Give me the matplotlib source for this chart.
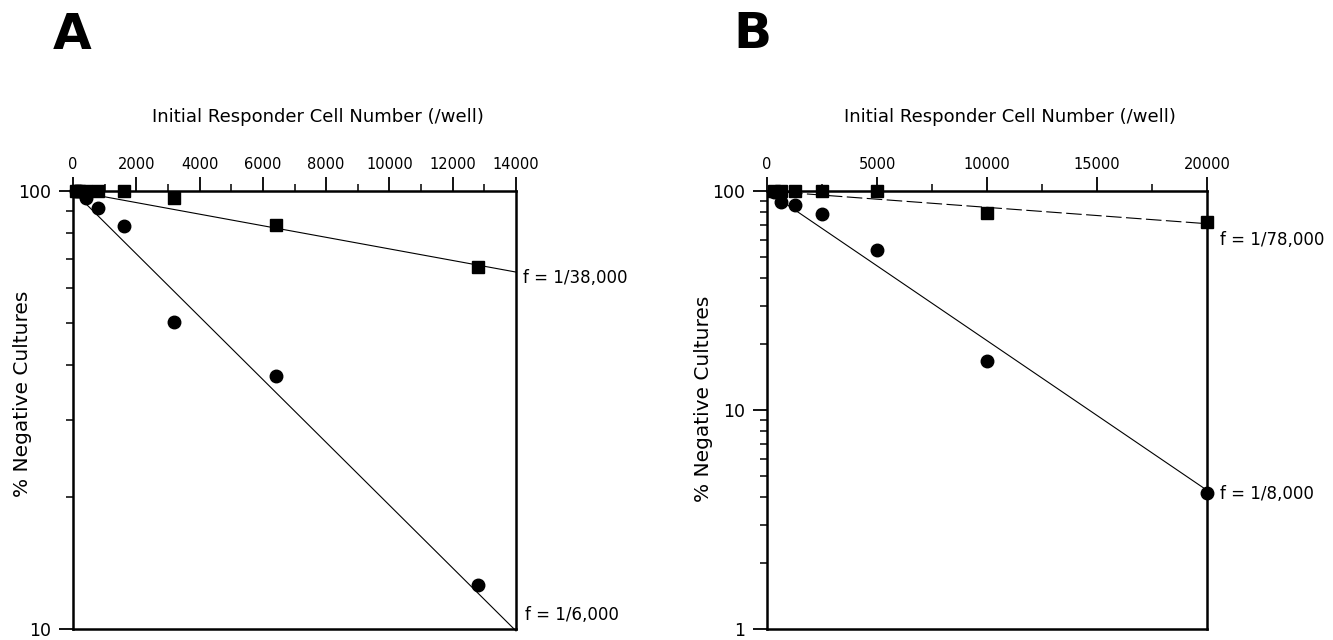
import matplotlib
matplotlib.use('Agg')
import matplotlib.pyplot as plt
from matplotlib.ticker import FixedLocator, NullFormatter

plt.rcParams['font.family'] = ['DejaVu Sans']

# panel A: cells per well, % negative cultures
a_cells = [100, 200, 400, 800, 1600, 3200, 6400, 12800]
a_squares = [100, 100, 100, 100, 100, 96.4, 83.7, 67.0]
a_circles = [100, 100, 96.4, 91.5, 83.3, 50.2, 37.9, 12.6]
a_fit_x = [0, 14000]
a_fit_squares = [100, 65.3]
a_fit_circles = [100, 9.9]
a_labels = ['f = 1/38,000', 'f = 1/6,000']

# panel B
b_cells = [312.5, 625, 1250, 2500, 5000, 10000, 20000]
b_squares = [100, 100, 100, 100, 100, 79.5, 72.4]
b_circles = [99, 89.2, 86.4, 78.7, 53.5, 16.7, 4.2]
b_fit_x = [0, 20000]
b_fit_squares = [100, 70.9]
b_fit_circles = [100, 4.3]
b_labels = ['f = 1/78,000', 'f = 1/8,000']

xtitle = 'Initial Responder Cell Number (/well)'
ytitle = '% Negative Cultures'

W, H = 1333, 640
fig = plt.figure(figsize=(W / 100, H / 100), dpi=100)


def px_axes(x0, x1, y0, y1):
    # axes box from pixel edges
    return fig.add_axes([x0 / W, 1 - y1 / H, (x1 - x0) / W, (y1 - y0) / H])


def style(ax, xmax, xmajor, xminor, ymin, ymajor, yminor, ylab_xy):
    ax.set_yscale('log')
    ax.set_xlim(0, xmax)
    ax.set_ylim(ymin, 100)
    for s in ax.spines.values():
        s.set_linewidth(1.8)
    ax.xaxis.tick_top()
    ax.xaxis.set_major_locator(FixedLocator(xmajor))
    ax.xaxis.set_minor_locator(FixedLocator(xminor))
    ax.xaxis.set_minor_formatter(NullFormatter())
    ax.set_xticklabels([str(v) for v in xmajor])
    ax.yaxis.set_major_locator(FixedLocator(ymajor))
    ax.yaxis.set_minor_locator(FixedLocator(yminor))
    ax.yaxis.set_minor_formatter(NullFormatter())
    ax.set_yticklabels([str(v) for v in ymajor])
    ax.tick_params(axis='x', which='major', direction='out', length=10, width=1.3,
                   labelsize=10.5, pad=4)
    ax.tick_params(axis='x', which='minor', direction='out', length=5, width=1.1)
    ax.tick_params(axis='y', which='major', direction='out', length=10, width=1.3,
                   labelsize=12.5, pad=6)
    ax.tick_params(axis='y', which='minor', direction='out', length=5, width=1.1)
    ax.set_xlabel(xtitle, fontsize=13)
    ax.xaxis.set_label_position('top')
    ax.xaxis.set_label_coords(0.553, 1.168)
    ax.xaxis.label.set_va('center')
    ax.set_ylabel(ytitle, fontsize=14.5)
    ax.yaxis.set_label_coords(*ylab_xy)
    ax.yaxis.label.set_va('center')


def draw(ax, cells, sq, circ, fx, fsq, fcirc, dashed):
    ls = (0, (14, 4)) if dashed else '-'
    ax.plot(fx, fsq, color='black', lw=0.8, ls=ls, clip_on=False, zorder=2)
    ax.plot(fx, fcirc, color='black', lw=0.8, clip_on=False, zorder=2)
    ax.plot(cells, circ, 'o', color='black', ms=9, clip_on=False, zorder=3)
    ax.plot(cells, sq, 's', color='black', ms=8, clip_on=False, zorder=4)


# ---- A ----
axA = px_axes(73, 516, 191, 629)
draw(axA, a_cells, a_squares, a_circles, a_fit_x, a_fit_squares, a_fit_circles, False)
style(axA, 14000, list(range(0, 14001, 2000)), list(range(1000, 14000, 2000)),
      10, [10, 100], [20, 30, 40, 50, 60, 70, 80, 90], (-0.115, 0.537))
axA.annotate(a_labels[0], (a_fit_x[-1], a_fit_squares[-1]), xytext=(5, -4.5),
             textcoords='offset points', fontsize=12, va='center', ha='left',
             annotation_clip=False)
axA.annotate(a_labels[1], (a_fit_x[-1], a_fit_circles[-1]), xytext=(6.5, 11.5),
             textcoords='offset points', fontsize=12, va='center', ha='left',
             annotation_clip=False)

# ---- B ----
axB = px_axes(767, 1207, 191, 629)
draw(axB, b_cells, b_squares, b_circles, b_fit_x, b_fit_squares, b_fit_circles, True)
minorB = [2, 3, 4, 5, 6, 7, 8, 9, 20, 30, 40, 50, 60, 70, 80, 90]
style(axB, 20000, [0, 5000, 10000, 15000, 20000], [2500, 7500, 12500, 17500],
      1, [1, 10, 100], minorB, (-0.145, 0.525))
axB.annotate(b_labels[0], (b_fit_x[-1], b_fit_squares[-1]), xytext=(9.4, -11.5),
             textcoords='offset points', fontsize=12, va='center', ha='left',
             annotation_clip=False)
axB.annotate(b_labels[1], (b_fit_x[-1], b_fit_circles[-1]), xytext=(9.4, -3),
             textcoords='offset points', fontsize=12, va='center', ha='left',
             annotation_clip=False)

# panel letters
fig.text(53 / W, 1 - 49 / H, 'A', fontsize=36, fontweight='bold', va='baseline')
fig.text(733 / W, 1 - 48 / H, 'B', fontsize=36, fontweight='bold', va='baseline')

fig.savefig('out.png', dpi=100)
